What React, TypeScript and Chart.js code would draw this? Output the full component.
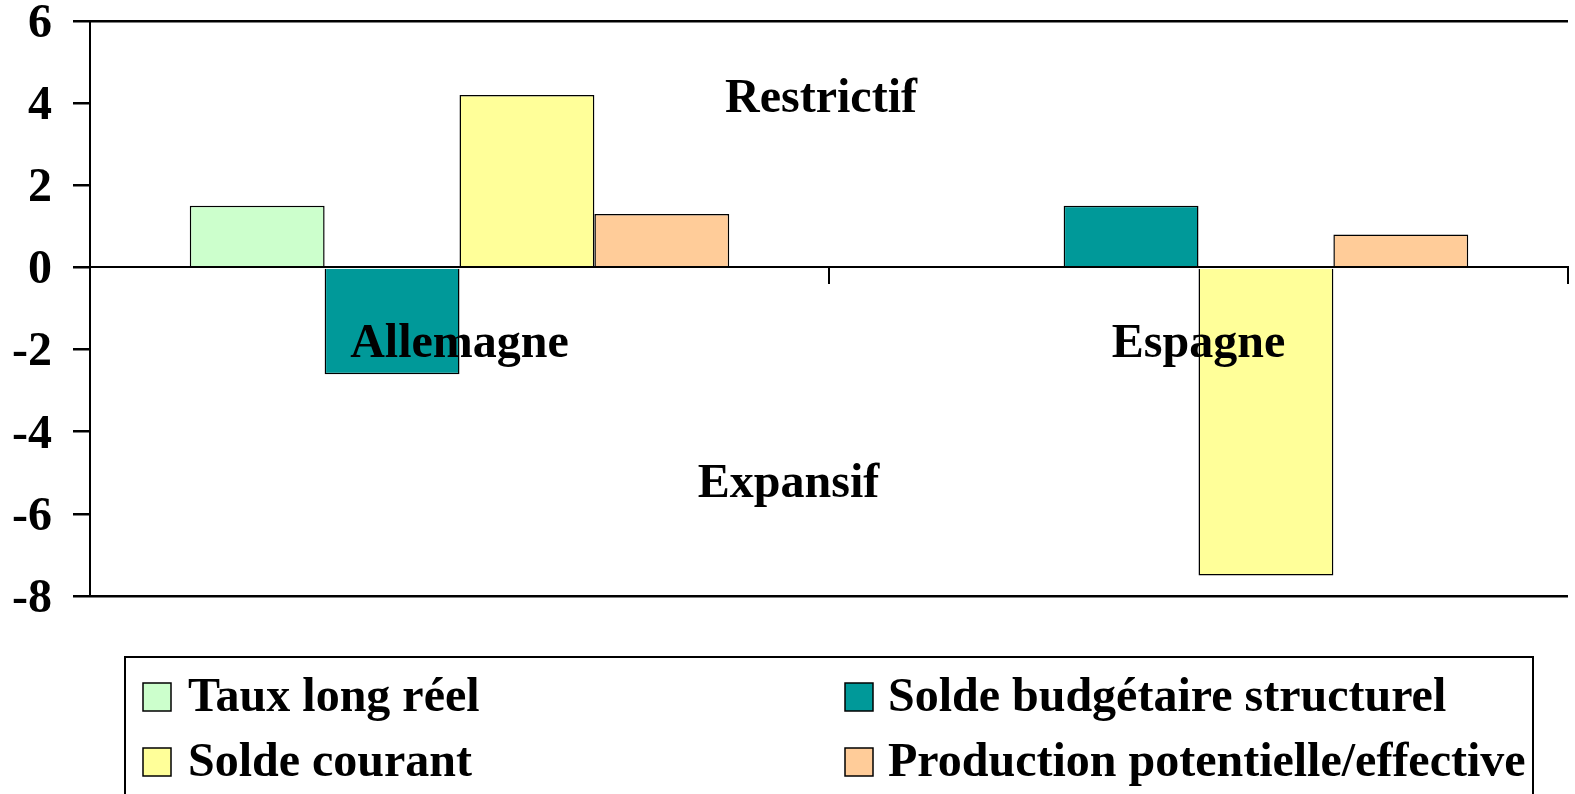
import React, { useEffect, useRef } from "react";
import { Chart, registerables } from "chart.js";

Chart.register(...registerables);

const categories = ["Allemagne", "Espagne"];
const seriesLabels = [
  "Taux long réel",
  "Solde budgétaire structurel",
  "Solde courant",
  "Production potentielle/effective",
];
const tauxLongReel = [1.5, 0];
const soldeBudgetaire = [-2.6, 1.5];
const soldeCourant = [4.2, -7.5];
const production = [1.3, 0.8];
const yTicks = [-8, -6, -4, -2, 0, 2, 4, 6];
const zoneLabels = ["Restrictif", "Expansif"];
const zoneValues = [3.78, -5.59];

const FONT = '"Liberation Serif", "Times New Roman", serif';
const COLORS = ["#CCFFCC", "#009999", "#FFFF99", "#FFCC99"];

const annotPlugin = {
  id: "annot",
  afterDatasetsDraw(chart: any) {
    const { ctx, chartArea, scales } = chart;
    const w = chartArea.right - chartArea.left;
    const xs = [0.4946, 0.4726];
    ctx.save();
    ctx.font = `bold 48px ${FONT}`;
    ctx.fillStyle = "#000";
    ctx.textAlign = "center";
    ctx.textBaseline = "alphabetic";
    zoneLabels.forEach((t, i) => {
      ctx.fillText(t, chartArea.left + w * xs[i], scales.y.getPixelForValue(zoneValues[i]));
    });
    ctx.restore();
  },
};

const legendPlugin = {
  id: "boxLegend",
  afterDraw(chart: any) {
    const { ctx } = chart;
    const ds = chart.data.datasets;
    ctx.save();
    ctx.lineWidth = 2;
    ctx.strokeStyle = "#000";
    ctx.strokeRect(125, 657, 1408, 160);
    const swX = [143, 845];
    const txX = [188, 888];
    const swY = [683, 748];
    const baseY = [711, 776];
    ctx.font = `bold 48px ${FONT}`;
    ctx.textBaseline = "alphabetic";
    ctx.textAlign = "left";
    ds.forEach((d: any, i: number) => {
      const c = i % 2;
      const r = Math.floor(i / 2);
      ctx.fillStyle = d.backgroundColor;
      ctx.fillRect(swX[c], swY[r], 28, 28);
      ctx.lineWidth = 1.5;
      ctx.strokeStyle = "#000";
      ctx.strokeRect(swX[c], swY[r], 28, 28);
      ctx.fillStyle = "#000";
      ctx.fillText(d.label, txX[c], baseY[r]);
    });
    ctx.restore();
  },
};

export default function App() {
  const ref = useRef<HTMLCanvasElement>(null);
  useEffect(() => {
    if (!ref.current) return;
    const values = [tauxLongReel, soldeBudgetaire, soldeCourant, production];
    const chart = new Chart(ref.current, {
      type: "bar",
      data: {
        labels: categories,
        datasets: values.map((v, i) => ({
          label: seriesLabels[i],
          data: v,
          backgroundColor: COLORS[i],
          borderColor: "#000",
          borderWidth: 1.5,
          categoryPercentage: 0.73,
          barPercentage: 1,
        })),
      },
      options: {
        animation: false,
        responsive: true,
        maintainAspectRatio: false,
        layout: { padding: { left: 0, top: 21, right: 7, bottom: 198 } },
        plugins: { legend: { display: false }, tooltip: { enabled: false } },
        scales: {
          x: {
            type: "category",
            position: { y: 0 } as any,
            offset: true,
            grid: {
              offset: true,
              drawOnChartArea: false,
              drawTicks: true,
              tickLength: 16,
              color: "#000",
              lineWidth: 2,
            },
            border: { display: true, color: "#000", width: 2, z: 1 },
            afterFit: (scale: any) => {
              scale.paddingLeft = 0;
              scale.paddingRight = 0;
            },
            ticks: {
              z: 1,
              color: "#000",
              padding: 32,
              font: { family: FONT, size: 48, weight: "bold", lineHeight: 1.2 },
            },
          },
          y: {
            min: -8,
            max: 6,
            afterBuildTicks: (scale: any) => {
              scale.ticks = yTicks.map((v) => ({ value: v }));
            },
            afterFit: (scale: any) => {
              scale.width = 90;
              scale.paddingTop = 0;
              scale.paddingBottom = 0;
            },
            grid: {
              color: (c: any) =>
                c.tick && (c.tick.value === 6 || c.tick.value === -8) ? "#000" : "rgba(0,0,0,0)",
              tickColor: "#000",
              tickLength: 17,
              lineWidth: 2.5,
            },
            border: { display: true, color: "#000", width: 2 },
            ticks: {
              color: "#000",
              padding: 21,
              labelOffset: 3.5,
              callback: (v: any) => String(v),
              font: { family: FONT, size: 48, weight: "bold", lineHeight: 0.8 },
            },
          },
        },
      },
      plugins: [annotPlugin, legendPlugin],
    });
    return () => chart.destroy();
  }, []);
  return (
    <div style={{ position: "absolute", left: 0, top: 0, width: 1575, height: 794 }}>
      <canvas ref={ref} />
    </div>
  );
}
